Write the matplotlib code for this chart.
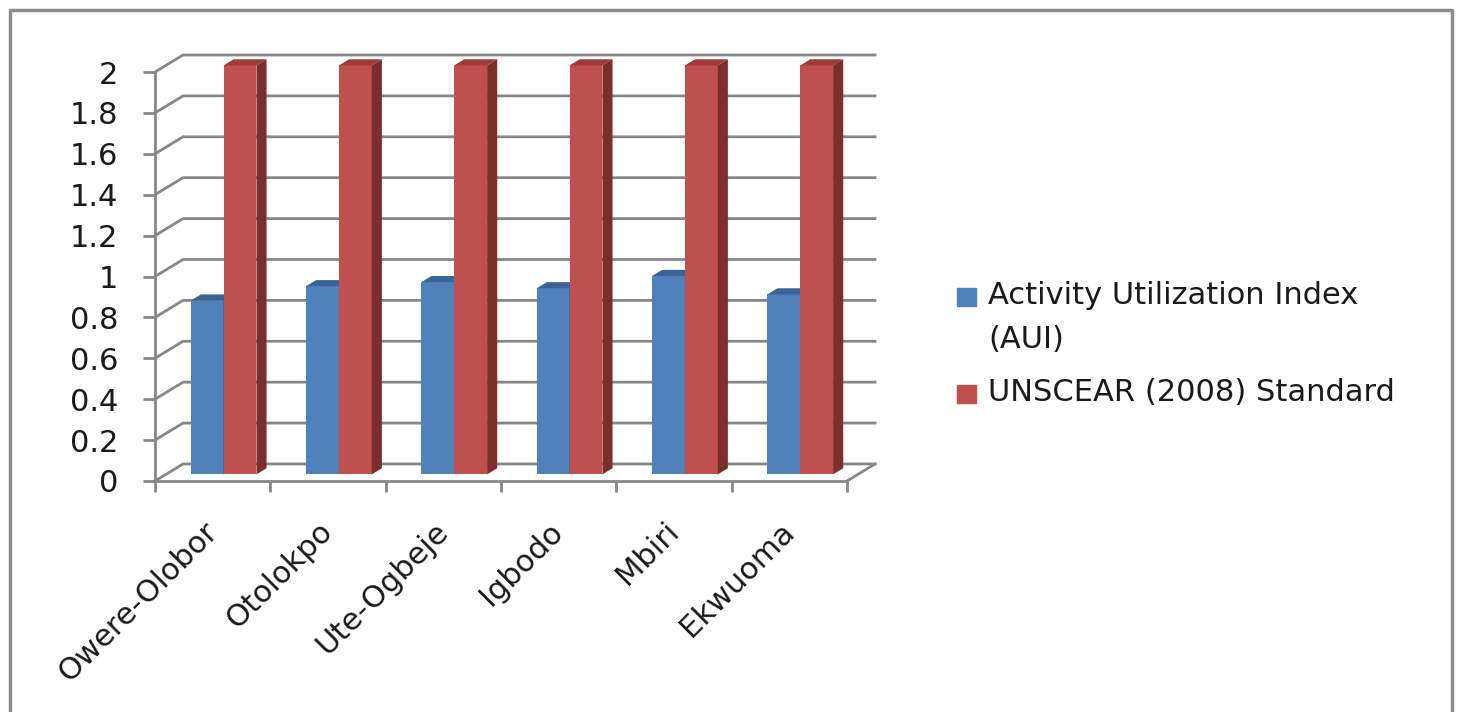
import matplotlib
matplotlib.use("Agg")
import matplotlib.pyplot as plt
from matplotlib.patches import Polygon, Rectangle
from matplotlib.lines import Line2D

plt.rcParams['font.family'] = ['DejaVu Sans']

sites = ['Owere-Olobor', 'Otolokpo', 'Ute-Ogbeje', 'Igbodo', 'Mbiri', 'Ekwuoma']
aui = [0.85, 0.92, 0.94, 0.91, 0.97, 0.88]
unscear = [2, 2, 2, 2, 2, 2]
series_names = ['Activity Utilization Index\n(AUI)', 'UNSCEAR (2008) Standard']
yticks = [0, 0.2, 0.4, 0.6, 0.8, 1, 1.2, 1.4, 1.6, 1.8, 2]
ytick_labels = ['0', '0.2', '0.4', '0.6', '0.8', '1', '1.2', '1.4', '1.6', '1.8', '2']

# fake 3D: depth offset of the back wall in data units
DX, DY = 0.243, 0.0833
f0, f1 = 0.39, 0.75        # bar front / back depth fraction
bw = 0.285
fs = 22

grid_c = '#878787'
faces = {
    'blue': ('#4F81BD', '#3A6495', '#2E4F78'),
    'red': ('#C0504D', '#9C3D3B', '#7B2E2C'),
}

fig = plt.figure(figsize=(14.59, 7.12), dpi=100)
ax = fig.add_axes([155 / 1459, 1 - 481 / 712, 720 / 1459, 426 / 712])
n = len(sites)
ax.set_xlim(0, n + DX)
ax.set_ylim(0, 2 + DY)
for s in ax.spines.values():
    s.set_visible(False)

# gridlines on back wall + left wall diagonals
for y in yticks:
    ax.plot([0, DX, n + DX], [y, y + DY, y + DY], color=grid_c, lw=2, zorder=1, clip_on=False)
ax.plot([n, n + DX], [0, DY], color=grid_c, lw=2, zorder=1, clip_on=False)
# front axes
ax.plot([0, 0], [0, 2], color=grid_c, lw=2, zorder=1, clip_on=False)
ax.plot([0, n], [0, 0], color=grid_c, lw=2, zorder=1, clip_on=False)


def bar3d(xs, vals, colors):
    front, top, side = colors
    b0 = DY * f0
    d = f1 - f0
    bars = ax.bar(xs, vals, width=bw, bottom=b0, color=front, zorder=3, linewidth=0)
    for rect in bars:
        x0 = rect.get_x()
        x1 = x0 + rect.get_width()
        yt = rect.get_y() + rect.get_height()
        ax.add_patch(Polygon([(x0, yt), (x1, yt), (x1 + DX * d, yt + DY * d), (x0 + DX * d, yt + DY * d)],
                             closed=True, color=top, lw=0, zorder=3))
        ax.add_patch(Polygon([(x1, b0), (x1, yt), (x1 + DX * d, yt + DY * d), (x1 + DX * d, b0 + DY * d)],
                             closed=True, color=side, lw=0, zorder=3))


centers = [i + 0.5 + DX * f0 for i in range(n)]
bar3d([c - bw / 2 for c in centers], aui, faces['blue'])
bar3d([c + bw / 2 for c in centers], unscear, faces['red'])

ax.set_yticks(yticks)
ax.set_yticklabels(ytick_labels, fontsize=fs, color='#1a1a1a')
ax.tick_params(axis='y', length=8.6, width=2, color=grid_c, pad=18)

ax.set_xticks([i + 0.5 for i in range(n)])
ax.set_xticklabels(sites, fontsize=fs, color='#1a1a1a', rotation=45, ha='right', va='center',
                   rotation_mode='anchor')
ax.tick_params(axis='x', which='major', length=0, pad=33)
ax.set_xticks(range(n + 1), minor=True)
ax.tick_params(axis='x', which='minor', length=8, width=2, color=grid_c)

# legend
leg_colors = [faces['blue'][0], faces['red'][0]]
leg_y = [297, 394]
for c, name, y in zip(leg_colors, series_names, leg_y):
    fig.patches.append(Rectangle((957 / 1459, 1 - (y + 9) / 712), 19 / 1459, 18 / 712,
                                 transform=fig.transFigure, color=c, figure=fig))
    fig.text(988 / 1459, 1 - (y - 16) / 712, name, fontsize=fs, va='top', ha='left',
             linespacing=1.65, color='#1a1a1a')

# outer chart border
bc = '#8C8C8C'
fig.lines.append(Line2D([10 / 1459, 10 / 1459, 1452 / 1459, 1452 / 1459], [0, 1 - 10 / 712, 1 - 10 / 712, 0],
                        transform=fig.transFigure, color=bc, lw=2.5, figure=fig))

fig.savefig('out.png', dpi=100)
